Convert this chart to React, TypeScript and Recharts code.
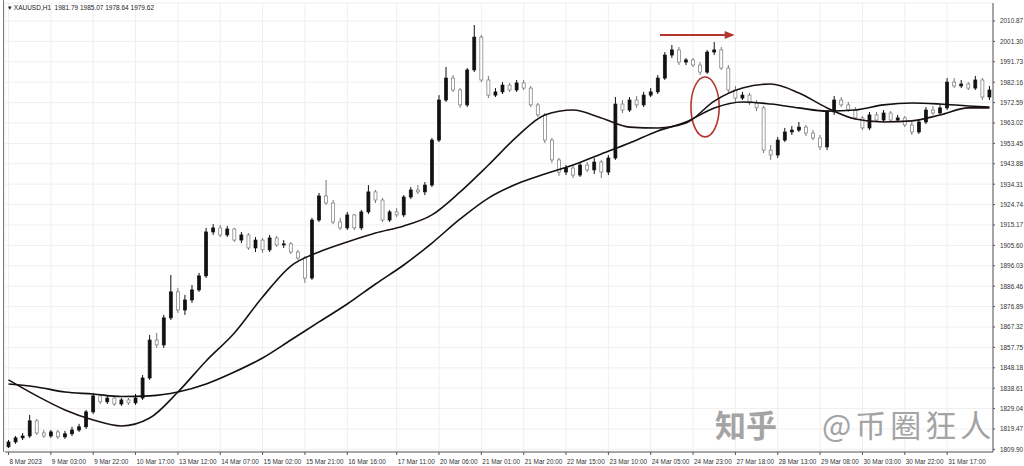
import React from 'react';
import { ComposedChart, Bar, Line, XAxis, YAxis, CartesianGrid, ReferenceLine, ReferenceArea } from 'recharts';

// XAUUSD candles, [open, high, low, close]
const candles: [number, number, number, number][] = [
  [1811.1, 1814.3, 1810.6, 1813.4], [1813.4, 1816.2, 1812.5, 1815.3], [1815.3, 1817.6, 1814.3, 1816.2],
  [1816.2, 1826.1, 1815.3, 1823.3], [1823.3, 1824.2, 1816.7, 1817.6], [1817.6, 1819.0, 1815.3, 1816.2],
  [1816.2, 1819.0, 1815.3, 1818.1], [1818.1, 1819.0, 1814.8, 1815.8], [1815.8, 1818.6, 1814.8, 1817.2],
  [1817.2, 1820.5, 1816.2, 1819.0], [1819.0, 1821.9, 1818.1, 1820.5], [1820.5, 1828.4, 1819.5, 1827.5],
  [1827.5, 1836.4, 1826.5, 1835.0], [1835.0, 1835.9, 1831.2, 1832.2], [1832.2, 1835.0, 1831.2, 1834.0],
  [1834.0, 1835.0, 1830.3, 1831.2], [1831.2, 1834.0, 1830.3, 1833.1], [1833.1, 1834.0, 1830.8, 1831.7],
  [1831.7, 1835.9, 1830.8, 1834.0], [1834.0, 1844.8, 1833.1, 1843.4], [1843.4, 1863.6, 1842.5, 1861.2],
  [1861.2, 1864.5, 1857.5, 1858.9], [1858.9, 1873.0, 1857.5, 1871.6], [1871.6, 1891.7, 1870.6, 1883.8],
  [1883.8, 1885.6, 1873.9, 1875.3], [1875.3, 1882.4, 1873.0, 1880.0], [1880.0, 1887.0, 1878.6, 1884.7],
  [1884.7, 1892.7, 1883.8, 1891.3], [1891.3, 1913.8, 1890.3, 1911.9], [1911.9, 1915.6, 1910.5, 1913.8],
  [1913.8, 1915.2, 1909.5, 1910.5], [1910.5, 1914.7, 1909.5, 1913.3], [1913.3, 1913.8, 1907.2, 1908.1],
  [1908.1, 1911.9, 1906.7, 1910.5], [1910.5, 1911.4, 1903.5, 1904.4], [1904.4, 1909.5, 1902.5, 1908.1],
  [1908.1, 1909.1, 1902.1, 1903.5], [1903.5, 1910.5, 1902.5, 1909.1], [1909.1, 1910.0, 1904.9, 1905.8],
  [1905.8, 1908.1, 1904.4, 1906.3], [1906.3, 1907.2, 1901.6, 1902.5], [1902.5, 1903.5, 1898.8, 1899.7],
  [1899.7, 1900.6, 1888.0, 1890.3], [1890.3, 1918.5, 1889.4, 1917.5], [1917.5, 1930.2, 1916.6, 1928.8],
  [1928.8, 1936.3, 1924.6, 1925.5], [1925.5, 1926.9, 1915.6, 1916.6], [1916.6, 1918.5, 1912.8, 1913.8],
  [1913.8, 1921.3, 1912.8, 1919.9], [1919.9, 1920.3, 1912.8, 1913.8], [1913.8, 1922.2, 1912.8, 1921.3],
  [1921.3, 1933.9, 1920.3, 1930.7], [1930.7, 1931.6, 1925.5, 1926.9], [1926.9, 1927.8, 1916.6, 1917.5],
  [1917.5, 1922.2, 1916.6, 1921.3], [1921.3, 1923.1, 1918.9, 1919.9], [1919.9, 1929.2, 1918.9, 1928.3],
  [1928.3, 1933.0, 1927.4, 1931.6], [1931.6, 1933.9, 1929.7, 1930.7], [1930.7, 1935.3, 1929.2, 1933.9],
  [1933.9, 1956.0, 1933.0, 1955.0], [1955.0, 1976.1, 1954.1, 1973.8], [1973.8, 1989.3, 1972.9, 1984.1],
  [1984.1, 1985.5, 1977.6, 1978.5], [1978.5, 1979.4, 1970.1, 1971.5], [1971.5, 1988.8, 1970.5, 1987.9],
  [1987.9, 2009.0, 1986.9, 2003.3], [2003.3, 2004.3, 1982.2, 1983.2], [1983.2, 1985.1, 1974.7, 1976.1],
  [1976.1, 1979.4, 1975.2, 1977.6], [1977.6, 1982.2, 1976.6, 1980.8], [1980.8, 1981.8, 1977.6, 1978.5],
  [1978.5, 1983.2, 1977.6, 1981.8], [1981.8, 1983.2, 1978.5, 1979.4], [1979.4, 1980.4, 1970.5, 1971.5],
  [1971.5, 1972.4, 1965.8, 1966.8], [1966.8, 1967.7, 1953.6, 1955.0], [1955.0, 1956.0, 1944.3, 1945.7],
  [1945.7, 1946.6, 1938.2, 1940.0], [1940.0, 1943.3, 1938.6, 1941.9], [1941.9, 1943.3, 1937.2, 1938.6],
  [1938.6, 1944.7, 1937.7, 1943.3], [1943.3, 1944.7, 1940.0, 1941.0], [1941.0, 1946.6, 1939.1, 1944.7],
  [1944.7, 1945.7, 1937.2, 1940.0], [1940.0, 1948.0, 1938.6, 1946.6], [1946.6, 1975.2, 1945.7, 1971.9],
  [1971.9, 1973.8, 1967.7, 1969.1], [1969.1, 1975.2, 1968.2, 1973.8], [1973.8, 1975.7, 1970.1, 1971.5],
  [1971.5, 1977.6, 1970.5, 1976.1], [1976.1, 1979.4, 1975.2, 1977.6], [1977.6, 1985.5, 1976.6, 1984.1],
  [1984.1, 1996.3, 1983.2, 1994.9], [1994.9, 1999.6, 1993.5, 1997.3], [1997.3, 1998.7, 1990.2, 1991.6],
  [1991.6, 1993.5, 1990.2, 1992.6], [1992.6, 1993.5, 1989.3, 1990.2], [1990.2, 1991.6, 1985.5, 1986.9],
  [1986.9, 1997.3, 1986.0, 1996.3], [1996.3, 2001.0, 1994.9, 1997.3], [1997.3, 1998.7, 1987.9, 1988.8],
  [1988.8, 1990.2, 1977.1, 1978.5], [1978.5, 1980.4, 1972.9, 1974.7], [1974.7, 1977.6, 1973.8, 1976.1],
  [1976.1, 1977.1, 1971.5, 1972.4], [1972.4, 1973.8, 1968.6, 1970.1], [1970.1, 1971.0, 1948.9, 1950.3],
  [1950.3, 1952.7, 1945.7, 1948.0], [1948.0, 1956.5, 1946.6, 1955.0], [1955.0, 1960.7, 1954.1, 1958.8],
  [1958.8, 1961.6, 1957.4, 1959.7], [1959.7, 1963.5, 1958.8, 1961.1], [1961.1, 1962.1, 1956.9, 1958.3],
  [1958.3, 1959.7, 1955.0, 1956.0], [1956.0, 1957.4, 1950.3, 1951.8], [1951.8, 1969.1, 1950.3, 1968.2],
  [1968.2, 1975.7, 1966.8, 1973.8], [1973.8, 1975.2, 1970.5, 1971.5], [1971.5, 1972.9, 1968.2, 1969.1],
  [1969.1, 1970.5, 1964.4, 1965.4], [1965.4, 1966.3, 1959.7, 1960.7], [1960.7, 1968.2, 1959.7, 1966.8],
  [1966.8, 1968.2, 1963.5, 1964.4], [1964.4, 1969.1, 1963.5, 1967.7], [1967.7, 1968.6, 1963.5, 1964.4],
  [1964.4, 1966.8, 1963.5, 1965.4], [1965.4, 1966.3, 1961.1, 1962.1], [1962.1, 1963.5, 1957.4, 1958.8],
  [1958.8, 1964.4, 1957.9, 1963.5], [1963.5, 1970.5, 1962.5, 1969.1], [1969.1, 1971.0, 1966.8, 1967.7],
  [1967.7, 1971.9, 1966.8, 1970.1], [1970.1, 1984.1, 1969.1, 1982.2], [1982.2, 1984.1, 1979.4, 1980.4],
  [1980.4, 1983.2, 1979.4, 1981.3], [1981.3, 1982.2, 1978.5, 1979.4], [1979.4, 1985.1, 1978.5, 1983.2],
  [1983.2, 1984.1, 1973.8, 1975.2], [1975.2, 1980.4, 1973.8, 1978.5],
];

// moving averages, sampled at these candle indexes
const maIdx = [0, 4, 8, 12, 16, 20, 24, 28, 32, 36, 40, 44, 48, 52, 56, 60, 64, 68, 72, 76, 80, 84, 88, 92, 96, 100, 104, 108, 112, 116, 120, 124, 128, 132, 136, 139];
const fastMA = [1842.5, 1835.0, 1828.4, 1823.7, 1820.9, 1824.6, 1836.8, 1851.4, 1864.5, 1881.4, 1895.9, 1902.5, 1907.2, 1911.4, 1914.7, 1919.9, 1930.7, 1943.3, 1956.5, 1966.8, 1969.1, 1965.4, 1961.1, 1960.7, 1963.0, 1973.3, 1979.4, 1981.3, 1977.1, 1970.1, 1964.9, 1963.5, 1964.0, 1966.8, 1970.1, 1970.1];
const slowMA = [1840.6, 1839.2, 1836.8, 1835.9, 1834.7, 1835.0, 1836.8, 1840.6, 1846.2, 1852.8, 1861.2, 1869.7, 1878.1, 1887.5, 1896.4, 1906.7, 1918.0, 1927.8, 1934.4, 1939.1, 1943.3, 1948.5, 1953.6, 1959.3, 1963.5, 1970.1, 1972.9, 1971.9, 1970.1, 1968.6, 1969.1, 1971.5, 1972.4, 1971.9, 1971.0, 1970.5];

const priceTicks = [2010.87, 2001.30, 1991.73, 1982.16, 1972.59, 1963.02, 1953.45, 1943.88, 1934.31, 1924.74, 1915.17, 1905.60, 1896.03, 1886.46, 1876.89, 1867.32, 1857.75, 1848.18, 1838.61, 1829.04, 1819.47, 1809.90];

const timeTickIdx = [0, 6, 12, 18, 24, 30, 36, 42, 48, 55, 61, 67, 73, 79, 85, 91, 97, 103, 109, 115, 121, 127, 133];
const timeLabels = [
  '8 Mar 2023', '9 Mar 03:00', '9 Mar 22:00', '10 Mar 17:00', '13 Mar 12:00', '14 Mar 07:00', '15 Mar 02:00',
  '15 Mar 21:00', '16 Mar 16:00', '17 Mar 11:00', '20 Mar 06:00', '21 Mar 01:00', '21 Mar 20:00', '22 Mar 15:00',
  '23 Mar 10:00', '24 Mar 05:00', '24 Mar 23:00', '27 Mar 18:00', '28 Mar 13:00', '29 Mar 08:00', '30 Mar 03:00',
  '30 Mar 22:00', '31 Mar 17:00',
];

const data = candles.map(([o, h, l, c], i) => {
  const k = maIdx.indexOf(i);
  return {
    i, o, h, l, c,
    range: [l, h],
    fast: k >= 0 ? fastMA[k] : null,
    slow: k >= 0 ? slowMA[k] : null,
  };
});

const RED = '#b4352d';
const axisFont = { fontFamily: 'Liberation Sans', fontSize: 6.4, fill: '#333' };

const Candle = (props: any) => {
  const { x, y, width, height, payload } = props;
  const { o, h, l, c } = payload;
  const k = h === l ? 0 : height / (h - l);
  const yo = y + (h - o) * k;
  const yc = y + (h - c) * k;
  const cx = x + width / 2;
  const up = c >= o;
  const col = up ? '#111' : '#777';
  return (
    <g>
      <line x1={cx} x2={cx} y1={y} y2={y + height} stroke={col} strokeWidth={1} />
      <rect x={x} y={Math.min(yo, yc)} width={width} height={Math.max(1, Math.abs(yc - yo))}
        fill={up ? '#111' : '#fff'} stroke={col} strokeWidth={0.7} />
    </g>
  );
};

const TimeTick = ({ x, y, payload }: any) => (
  <text x={x + 1} y={y + 7} textAnchor="start" {...axisFont}>
    {timeLabels[timeTickIdx.indexOf(payload.value)]}
  </text>
);

const PriceTick = ({ x, y, payload }: any) => (
  <text x={x + 3} y={y + 2.5} textAnchor="start" {...axisFont}>
    {payload.value.toFixed(2)}
  </text>
);

const Arrow = (p: any) => (
  <g>
    <line x1={p.x1} y1={p.y1} x2={p.x2 - 8} y2={p.y2} stroke={RED} strokeWidth={2} />
    <polygon points={`${p.x2},${p.y2} ${p.x2 - 10},${p.y2 - 4} ${p.x2 - 10},${p.y2 + 4}`} fill={RED} />
  </g>
);

const Ellipse = (p: any) => (
  <ellipse cx={p.x + p.width / 2} cy={p.y + p.height / 2} rx={p.width / 2} ry={p.height / 2}
    fill="none" stroke={RED} strokeWidth={1.6} />
);

const markStyle: React.CSSProperties = {
  position: 'absolute', top: 408, fontFamily: '"Noto Sans CJK SC"', fontSize: 31, lineHeight: 1,
  color: '#a4a4a4', whiteSpace: 'nowrap',
};

export default function App() {
  return (
    <div style={{ position: 'absolute', left: 0, top: 0, width: 1024, height: 466, background: '#fff', overflow: 'hidden' }}>
      <ComposedChart width={1024} height={466} data={data} margin={{ top: 3, right: 0, bottom: 0, left: 5 }}>
        <CartesianGrid stroke="#efefef" />
        <XAxis type="number" dataKey="i" domain={[-0.5, 139.5]} ticks={timeTickIdx} interval={0}
          allowDataOverflow height={14} tick={<TimeTick />} tickSize={3}
          axisLine={{ stroke: '#555' }} tickLine={{ stroke: '#555' }} />
        <YAxis orientation="right" domain={[1808.68, 2019.31]} ticks={priceTicks} interval={0}
          allowDataOverflow width={31} tick={<PriceTick />} tickSize={2}
          axisLine={{ stroke: '#555' }} tickLine={{ stroke: '#555' }} />
        <Bar dataKey="range" barSize={3} shape={<Candle />} isAnimationActive={false} />
        <Line type="monotone" dataKey="slow" stroke="#111" strokeWidth={1.6} dot={false} connectNulls isAnimationActive={false} />
        <Line type="monotone" dataKey="fast" stroke="#1c1212" strokeWidth={1.6} dot={false} connectNulls isAnimationActive={false} />
        <ReferenceLine segment={[{ x: 92.3, y: 2004.3 }, { x: 102.9, y: 2004.3 }]} shape={<Arrow />} />
        <ReferenceArea x1={96.7} x2={100.7} y1={1956.5} y2={1984.6} shape={<Ellipse />} />
      </ComposedChart>
      <div style={{ position: 'absolute', left: 3, top: 0, width: 1, height: 452, background: '#777' }} />
      <div style={{ position: 'absolute', left: 8, top: 4, fontFamily: 'Liberation Sans', fontSize: 6.5, color: '#222', whiteSpace: 'nowrap' }}>
        ▾ XAUUSD,H1&nbsp; 1981.79 1985.07 1978.64 1979.62
      </div>
      <div style={{ ...markStyle, left: 715, fontWeight: 700 }}>知乎</div>
      <div style={{ ...markStyle, left: 822, letterSpacing: 4 }}>@币圈狂人</div>
    </div>
  );
}
